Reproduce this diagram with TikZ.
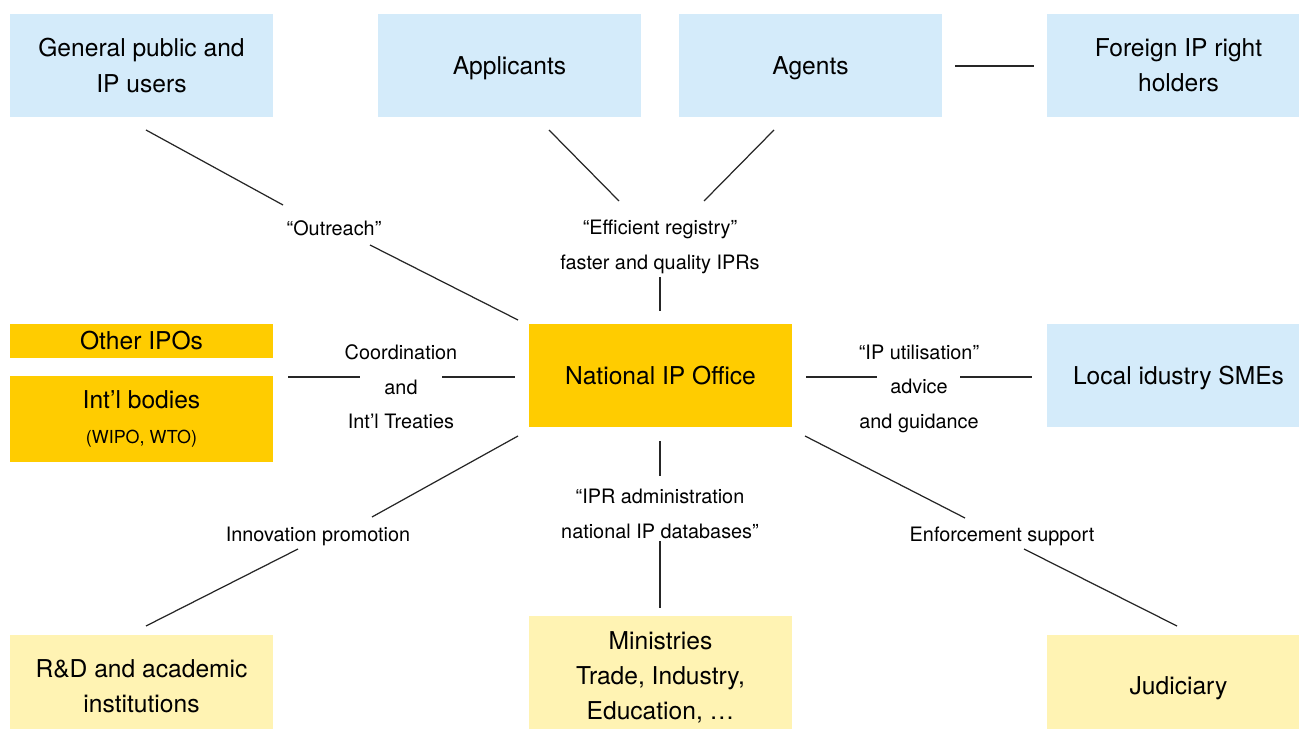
\documentclass[tikz,border=0pt]{standalone}
\usepackage{fontspec}
\setmainfont{TeX Gyre Heros}
\usepackage{tikz}
\usetikzlibrary{positioning}
\definecolor{SkyBox}{HTML}{D4EBFA}
\definecolor{Gold}{HTML}{FFCC00}
\definecolor{Cream}{HTML}{FFF3B3}

\begin{document}
\begin{tikzpicture}[x=0.02cm, y=-0.02cm,
    box/.style={rectangle, inner sep=0pt, align=center, minimum width=5.26cm, minimum height=2.06cm, font=\fontsize{14}{20}\selectfont},
    dropline/.style={execute at begin node={\rule{0pt}{0.93em}}},
    tag/.style={align=center, inner sep=0pt, font=\fontsize{11.3}{19.6}\selectfont},
    link/.style={-, line width=0.7pt, black!85}]

    \useasboundingbox (0,0) rectangle (1299,729);

    % top row
    \node[box, fill=SkyBox] (pub) at (141.5,65.5) {General public and\\IP users};
    \node[box, dropline, fill=SkyBox] (appl) at (509.5,65.5) {Applicants};
    \node[box, dropline, fill=SkyBox] (agent) at (810.5,65.5) {Agents};
    \node[box, fill=SkyBox] (foreign) at (1178.5,65.5) {Foreign IP right\\holders};

    % middle row
    \node[box, fill=Gold, minimum height=0.68cm] (ipos) at (141.5,341) {Other IPOs};
    \node[box, fill=Gold, minimum height=1.72cm] (intl) at (141.5,419) {Int’l bodies\\\fontsize{10.2}{19.6}\selectfont (WIPO, WTO)};
    \node[box, fill=Gold] (nipo) at (660.5,375.5) {National IP Office};
    \node[box, dropline, fill=SkyBox] (sme) at (1178.5,375.5) {Local idustry SMEs};

    % bottom row
    \node[box, fill=Cream] (rnd) at (141.5,686) {R\&D and academic\\institutions};
    \node[box, fill=Cream, minimum height=2.44cm] (mini) at (660.5,677) {Ministries\\Trade, Industry,\\Education, …};
    \node[box, dropline, fill=Cream] (judi) at (1178.5,686) {Judiciary};

    % labels on the links
    \node[tag] (outr) at (334,228) {“Outreach”};
    \node[tag] (reg) at (660,247) {“Efficient registry”\\faster and quality IPRs};
    \node[tag] (coord) at (401,387) {Coordination\\and\\Int’l Treaties};
    \node[tag] (util) at (919,388.5) {“IP utilisation”\\advice\\and guidance};
    \node[tag] (innov) at (318,536) {Innovation promotion};
    \node[tag] (admin) at (660,514) {“IPR administration\\national IP databases”};
    \node[tag] (enf) at (1002,536) {Enforcement support};

    % end points of the links
    \coordinate (pub-s) at (146,130);
    \coordinate (outr-a) at (283,205);
    \coordinate (outr-b) at (370,245);
    \coordinate (nipo-nw) at (518,320);
    \coordinate (appl-s) at (549,130);
    \coordinate (agent-s) at (774,130);
    \coordinate (reg-l) at (619,201);
    \coordinate (reg-r) at (704,201);
    \coordinate (reg-b) at (660,277);
    \coordinate (nipo-n) at (660,311);
    \coordinate (agent-e) at (955,66);
    \coordinate (foreign-w) at (1034,66);
    \coordinate (intl-e) at (288,377);
    \coordinate (coord-l) at (360,377);
    \coordinate (coord-r) at (442,377);
    \coordinate (nipo-w) at (515,377);
    \coordinate (nipo-e) at (806,377);
    \coordinate (util-l) at (877,377);
    \coordinate (util-r) at (960,377);
    \coordinate (sme-w) at (1032,377);
    \coordinate (nipo-sw) at (518,436);
    \coordinate (innov-a) at (372,517);
    \coordinate (innov-b) at (298,549);
    \coordinate (rnd-n) at (146,626);
    \coordinate (nipo-s) at (660,441);
    \coordinate (admin-a) at (660,476);
    \coordinate (admin-b) at (660,541);
    \coordinate (mini-n) at (660,608);
    \coordinate (nipo-se) at (805,436);
    \coordinate (enf-a) at (965,518);
    \coordinate (enf-b) at (1024,549);
    \coordinate (judi-n) at (1177,626);

    % links
    \draw[link] (pub-s) -- (outr-a);
    \draw[link] (outr-b) -- (nipo-nw);
    \draw[link] (appl-s) -- (reg-l);
    \draw[link] (agent-s) -- (reg-r);
    \draw[link] (reg-b) -- (nipo-n);
    \draw[link] (agent-e) -- (foreign-w);
    \draw[link] (intl-e) -- (coord-l);
    \draw[link] (coord-r) -- (nipo-w);
    \draw[link] (nipo-e) -- (util-l);
    \draw[link] (util-r) -- (sme-w);
    \draw[link] (nipo-sw) -- (innov-a);
    \draw[link] (innov-b) -- (rnd-n);
    \draw[link] (nipo-s) -- (admin-a);
    \draw[link] (admin-b) -- (mini-n);
    \draw[link] (nipo-se) -- (enf-a);
    \draw[link] (enf-b) -- (judi-n);

\end{tikzpicture}
\end{document}
